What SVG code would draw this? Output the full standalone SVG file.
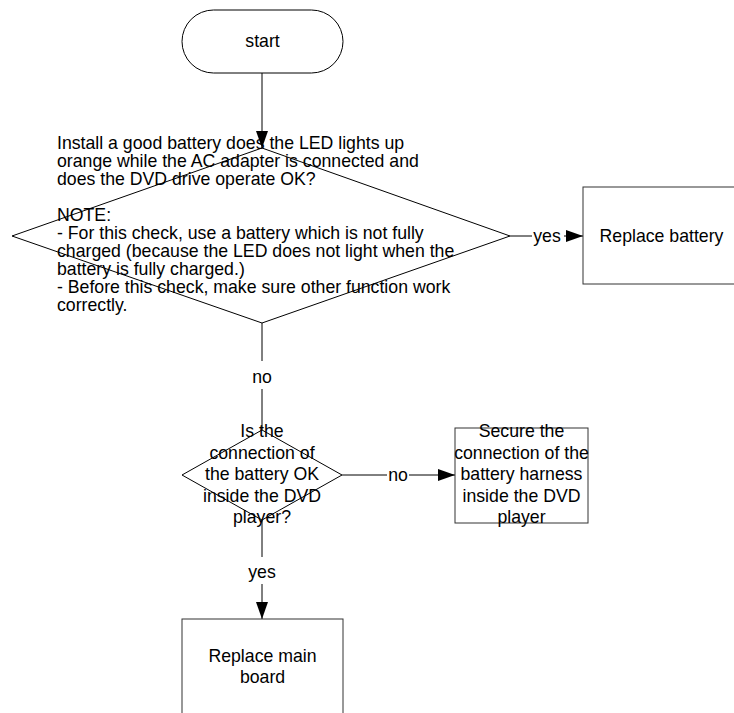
<svg xmlns="http://www.w3.org/2000/svg" width="734" height="713" viewBox="0 0 734 713">
<style>
.shape{fill:#fff;stroke:#000;stroke-width:1}
.box{fill:#fff;stroke:#333;stroke-width:1}
.line{fill:none;stroke:#000;stroke-width:1}
text{font-family:"Liberation Sans",Arial,sans-serif;font-size:17.7px;fill:#000}
.c{text-anchor:middle}
</style>
<defs>
<marker id="arr" markerWidth="18" markerHeight="12" refX="17" refY="6" orient="auto" markerUnits="userSpaceOnUse">
<path d="M0,0 L17,6 L0,12 Z" fill="#000"/>
</marker>
</defs>
<g id="connectors">
<line class="line" x1="262" y1="73" x2="262" y2="148" marker-end="url(#arr)"/>
<line class="line" x1="510" y1="236" x2="532" y2="236"/>
<line class="line" x1="564" y1="236" x2="583" y2="236" marker-end="url(#arr)"/>
<text class="c" x="547" y="242">yes</text>
<line class="line" x1="262" y1="323" x2="262" y2="361"/>
<line class="line" x1="262" y1="389" x2="262" y2="430"/>
<text class="c" x="262" y="383">no</text>
<line class="line" x1="342" y1="475" x2="387" y2="475"/>
<line class="line" x1="409" y1="475" x2="455" y2="475" marker-end="url(#arr)"/>
<text class="c" x="398" y="481">no</text>
<line class="line" x1="262" y1="520" x2="262" y2="557"/>
<line class="line" x1="262" y1="584" x2="262" y2="619" marker-end="url(#arr)"/>
<text class="c" x="262" y="578">yes</text>
</g>
<g id="start">
<rect class="shape" x="182" y="10" width="161" height="63" rx="31.5" ry="31.5"/>
<text class="c" x="262.5" y="47">start</text>
</g>
<g id="decision1">
<polygon class="shape" points="262,148 510,236 262,323 12,236" fill-opacity="0"/>
<text x="57" y="149">Install a good battery does the LED lights up</text>
<text x="57" y="167">orange while the AC adapter is connected and</text>
<text x="57" y="185">does the DVD drive operate OK?</text>
<text x="57" y="221">NOTE:</text>
<text x="57" y="239">- For this check, use a battery which is not fully</text>
<text x="57" y="257">charged (because the LED does not light when the</text>
<text x="57" y="275">battery is fully charged.)</text>
<text x="57" y="293">- Before this check, make sure other function work</text>
<text x="57" y="311">correctly.</text>
</g>
<g id="replace-battery">
<rect class="box" x="583" y="187" width="157" height="97"/>
<text class="c" x="661.5" y="242">Replace battery</text>
</g>
<g id="decision2">
<polygon class="shape" points="262,430 342,475 262,520 182,475" fill-opacity="0"/>
<text class="c" x="262" y="437">Is the</text>
<text class="c" x="262" y="458.5">connection of</text>
<text class="c" x="262" y="480">the battery OK</text>
<text class="c" x="262" y="501.5">inside the DVD</text>
<text class="c" x="262" y="523">player?</text>
</g>
<g id="secure-harness">
<rect class="box" x="455" y="428" width="133" height="95"/>
<text class="c" x="521.5" y="437">Secure the</text>
<text class="c" x="521.5" y="458.5">connection of the</text>
<text class="c" x="521.5" y="480">battery harness</text>
<text class="c" x="521.5" y="501.5">inside the DVD</text>
<text class="c" x="521.5" y="523">player</text>
</g>
<g id="replace-main-board">
<rect class="box" x="182" y="619" width="161" height="120"/>
<text class="c" x="262.5" y="661.5">Replace main</text>
<text class="c" x="262.5" y="683">board</text>
</g>
</svg>
